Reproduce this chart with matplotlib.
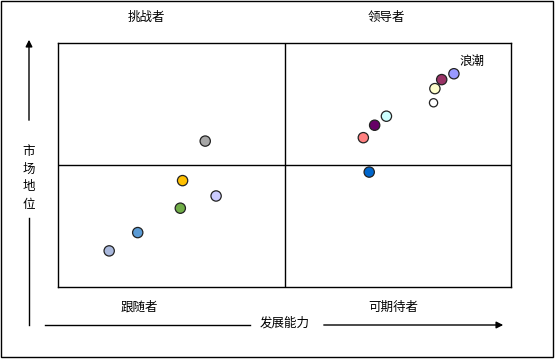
import matplotlib.pyplot as plt
from matplotlib.patches import Rectangle

plt.rcParams['font.family'] = ['Noto Sans CJK SC', 'DejaVu Sans']

W, H = 556, 360

# vendor positions (0-100 on both axes, midlines at 50)
vendors = ["浪潮", "", "", "", "", "", "", "", "", "", "", "", "", ""]
x_vals = [87.4, 84.7, 83.2, 82.9, 72.5, 69.9, 67.4, 68.7, 32.5, 27.5, 34.9, 27.0, 17.6, 11.3]
y_vals = [87.4, 85.0, 81.3, 75.5, 70.0, 66.3, 61.2, 47.1, 59.8, 43.6, 37.3, 32.3, 22.3, 14.8]
colors = ["#9999FF", "#993366", "#FFFFCC", "#FFFFFF", "#CCFFFF", "#660066", "#FF8080",
          "#0066CC", "#A6A6A6", "#FFC000", "#CCCCFF", "#70AD47", "#5B9BD5", "#A9B8DC"]
sizes = [55, 55, 55, 35, 55, 55, 55, 55, 55, 55, 55, 55, 55, 55]

quadrants = ["挑战者", "领导者", "跟随者", "可期待者"]
x_title = "发展能力"
y_title = "市场地位"


def fx(px):
    return px / W


def fy(py):
    return 1 - py / H


fig = plt.figure(figsize=(W / 100, H / 100), dpi=100)

# outer frame
fig.patches.append(Rectangle((fx(1), fy(357)), fx(552), 356 / H, transform=fig.transFigure,
                             fill=False, edgecolor="black", linewidth=1.0))

ax = fig.add_axes([fx(58), fy(287), fx(453), 244 / H])
ax.set_xlim(0, 100)
ax.set_ylim(0, 100)
ax.set_xticks([])
ax.set_yticks([])
for s in ax.spines.values():
    s.set_linewidth(1.0)
ax.axvline(50, color="black", lw=1.0)
ax.axhline(50, color="black", lw=1.0)

ax.scatter(x_vals, y_vals, s=sizes, c=colors, edgecolors="#222222", linewidths=0.9, zorder=3)
for name, x, y in zip(vendors, x_vals, y_vals):
    if name:
        ax.annotate(name, (x, y), xytext=(4, 9), textcoords="offset points",
                    fontsize=9, ha="left", va="center")

# quadrant labels
fig.text(fx(146), fy(17), quadrants[0], fontsize=9, ha="center", va="center")
fig.text(fx(386), fy(17), quadrants[1], fontsize=9, ha="center", va="center")
fig.text(fx(139), fy(307), quadrants[2], fontsize=9, ha="center", va="center")
fig.text(fx(393), fy(307), quadrants[3], fontsize=9, ha="center", va="center")

# axis arrows
arrow = dict(arrowstyle="-|>", color="black", lw=1.0, mutation_scale=10)
fig.add_artist(plt.Line2D([fx(45), fx(250)], [fy(325), fy(325)], color="black", lw=1.0))
fig.patches.append(plt.matplotlib.patches.FancyArrowPatch(
    (fx(321), fy(325)), (fx(506), fy(325)), transform=fig.transFigure, **arrow))
fig.text(fx(285), fy(323), x_title, fontsize=9, ha="center", va="center")

fig.add_artist(plt.Line2D([fx(29), fx(29)], [fy(325), fy(218)], color="black", lw=1.0))
fig.patches.append(plt.matplotlib.patches.FancyArrowPatch(
    (fx(29), fy(123)), (fx(29), fy(37)), transform=fig.transFigure, **arrow))
fig.text(fx(29), fy(178), "\n".join(y_title), fontsize=9, ha="center", va="center",
         linespacing=1.45)

fig.savefig("out.png", dpi=100)
